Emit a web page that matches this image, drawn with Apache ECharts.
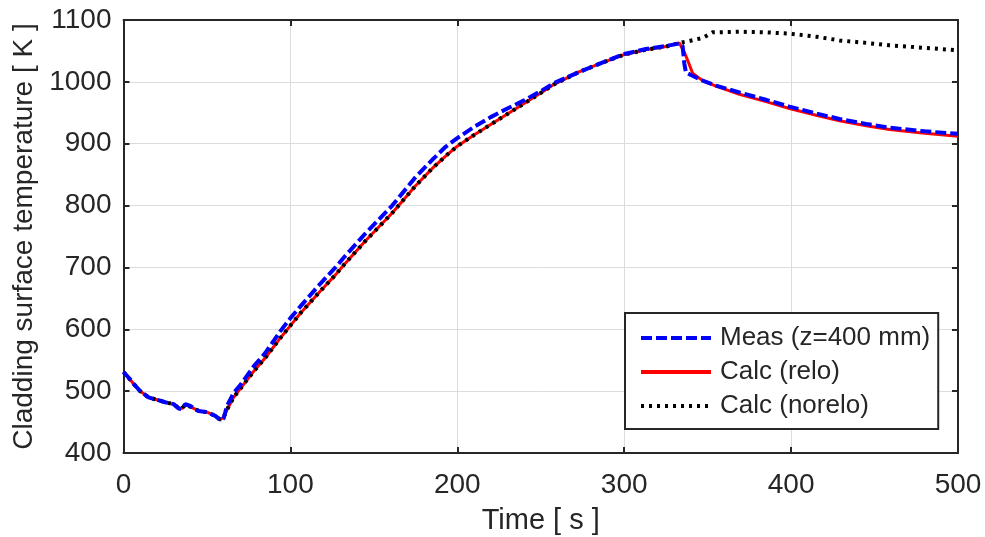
<!DOCTYPE html>
<html>
<head>
<meta charset="utf-8">
<script src="https://cdn.jsdelivr.net/npm/echarts@6/dist/echarts.min.js"></script>
<style>html,body{margin:0;padding:0;background:#fff;}#c{width:985px;height:537px;}</style>
</head>
<body>
<div id="c"></div>
<script>
// Data
var timeMeas = [0,3,6,10,15,20,25,30,33,35,37,40,45,50,55,58,60,62,66,70,78,85,94,100,106,118,127,132,145,161,175,185,193,200,210,220,230,240,250,258,273,285,300,313,325,333,335,336,337,340,347,355,369,385,399,415,429,445,459,480,500];
var tempMeas = [531,522,512,500,490,486,482,479,472,471,479,476,468,466,460,453,456,476,497,510,540,562,597,618,637,674,700,716,755,800,846,874,895,909,927,943,957,970,985,998,1016,1029,1045,1053,1058,1062,1058,1030,1015,1011,1002,994,983,971,960,949,940,932,926,920,916];

var timeRelo = [0,3,6,10,15,20,25,30,33,35,37,40,45,50,55,58,60,62,66,70,78,85,94,100,106,118,127,132,145,161,175,185,193,200,210,220,230,240,250,258,273,285,300,313,325,333,336,338,341,347,355,369,385,399,415,429,445,459,480,500];
var tempRelo = [531,522,512,500,490,486,482,479,473,472,478,475,468,466,460,454,458,470,490,504,532,554,586,606,626,662,688,704,743,788,832,860,880,896,914,931,948,965,982,996,1016,1029,1044,1052,1057,1063,1048,1035,1014,1002,993,980,968,957,946,937,929,923,917,912];

var timeNorelo = [0,3,6,10,15,20,25,30,33,35,37,40,45,50,55,58,60,62,66,70,78,85,94,100,106,118,127,132,145,161,175,185,193,200,210,220,230,240,250,258,273,285,300,313,325,333,339,347,353,369,385,399,415,429,445,459,480,500];
var tempNorelo = [531,522,512,500,490,486,482,479,473,472,478,475,468,466,460,454,458,470,490,504,532,554,586,606,626,662,688,704,743,788,832,860,880,896,914,931,948,965,982,996,1016,1029,1044,1052,1057,1063,1066,1071,1080,1081,1080,1078,1073,1067,1063,1059,1055,1051];

var xTicks = [0,100,200,300,400,500];
var yTicks = [400,500,600,700,800,900,1000,1100];
var seriesNames = ['Meas (z=400 mm)','Calc (relo)','Calc (norelo)'];

function pairs(t, v){ return t.map(function(x,i){ return [x, v[i]]; }); }

var chart = echarts.init(document.getElementById('c'), null, {renderer:'canvas'});
var fontN = '"Liberation Sans Narrow", "Arial Narrow", "Liberation Sans", Arial, sans-serif';
var font = '"Liberation Sans", Arial, Helvetica, sans-serif';
var txt = '#262626';
var option = {
  animation:false,
  backgroundColor:'#fff',
  grid:{left:123.5, right:27, top:20, bottom:84, containLabel:false, outerBoundsMode:'none'},
  xAxis:[{
    type:'value', min:xTicks[0], max:xTicks[xTicks.length-1], interval:100,
    name:'Time [ s ]', nameLocation:'middle', nameGap:53,
    nameTextStyle:{fontFamily:fontN, fontSize:29, color:txt},
    axisLine:{show:true, onZero:false, lineStyle:{color:'#262626', width:2}},
    axisTick:{show:true, inside:true, length:6, lineStyle:{color:'#262626', width:2}},
    axisLabel:{fontFamily:fontN, fontSize:28, color:txt, margin:18, formatter:function(v){return String(v);}},
    splitLine:{show:true, lineStyle:{color:'#dcdcdc', width:1}}
  },{
    type:'value', position:'top', min:xTicks[0], max:xTicks[xTicks.length-1], interval:100,
    axisLine:{show:true, onZero:false, lineStyle:{color:'#262626', width:2}},
    axisTick:{show:true, inside:true, length:6, lineStyle:{color:'#262626', width:2}},
    axisLabel:{show:false}, splitLine:{show:false}
  }],
  yAxis:[{
    type:'value', min:yTicks[0], max:yTicks[yTicks.length-1], interval:100,
    name:'Cladding surface temperature [ K ]', nameLocation:'middle', nameGap:72,
    nameTextStyle:{fontFamily:font, fontSize:28, color:txt},
    axisLine:{show:true, onZero:false, lineStyle:{color:'#262626', width:2}},
    axisTick:{show:true, inside:true, length:6, lineStyle:{color:'#262626', width:2}},
    axisLabel:{fontFamily:fontN, fontSize:28, color:txt, margin:12, formatter:function(v){return String(v);}},
    splitLine:{show:true, lineStyle:{color:'#dcdcdc', width:1}}
  },{
    type:'value', position:'right', min:yTicks[0], max:yTicks[yTicks.length-1], interval:100,
    axisLine:{show:true, onZero:false, lineStyle:{color:'#262626', width:2}},
    axisTick:{show:true, inside:true, length:6, lineStyle:{color:'#262626', width:2}},
    axisLabel:{show:false}, splitLine:{show:false}
  }],
  legend:{
    orient:'vertical', left:625, top:313,
    padding:[12,8,10,14], itemGap:8, itemWidth:70, itemHeight:14,
    borderColor:'#262626', borderWidth:2, backgroundColor:'#fff',
    itemStyle:{opacity:0},
    lineStyle:{width:4},
    textStyle:{fontFamily:fontN, fontSize:26, color:txt, lineHeight:26, padding:[0,0,0,4]},
    data:seriesNames
  },
  series:[{
    name:seriesNames[1], type:'line', data:pairs(timeRelo,tempRelo),
    showSymbol:false, symbol:'none', z:2,
    lineStyle:{color:'#ff0000', width:3, type:'solid'}, itemStyle:{color:'#ff0000'}
  },{
    name:seriesNames[2], type:'line', data:pairs(timeNorelo,tempNorelo),
    showSymbol:false, symbol:'none', z:3,
    lineStyle:{color:'#000000', width:4, type:[3,5]}, itemStyle:{color:'#000'}
  },{
    name:seriesNames[0], type:'line', data:pairs(timeMeas,tempMeas),
    showSymbol:false, symbol:'none', z:4,
    lineStyle:{color:'#0000ff', width:4, type:[11,4]}, itemStyle:{color:'#0000ff'}
  }]
};
chart.setOption(option);
</script>
</body>
</html>
